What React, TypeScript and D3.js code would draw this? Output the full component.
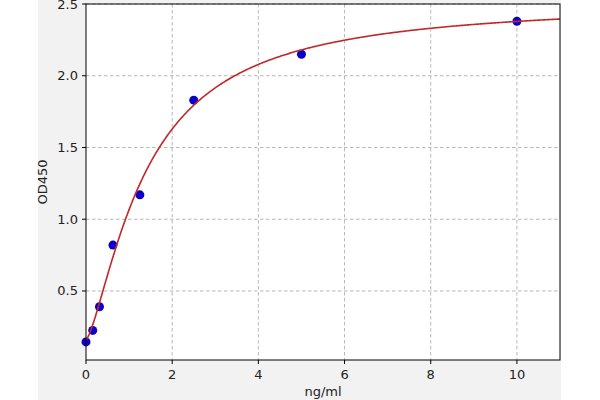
import React from "react";
import * as d3 from "d3";

const concX = [0, 0.156, 0.3125, 0.625, 1.25, 2.5, 5, 10];
const odY = [0.145, 0.225, 0.39, 0.82, 1.17, 1.83, 2.15, 2.38];
const xTicks = [0, 2, 4, 6, 8, 10];
const yTicks = [0.5, 1.0, 1.5, 2.0, 2.5];
// 4PL fit parameters
const fitA = 0.16;
const fitB = 1.4;
const fitC = 1.4;
const fitD = 2.52;

export default function App() {
  const W = 600, H = 400;
  const left = 86, right = 560, top = 4, bottom = 360;
  const x = d3.scaleLinear().domain([0, 11]).range([left, right]);
  const y = d3.scaleLinear().domain([0.019, 2.5]).range([bottom, top]);
  const f = (v: number) => fitD + (fitA - fitD) / (1 + Math.pow(v / fitC, fitB));
  const curvePts = d3.range(0, 11.0001, 0.02).map((v) => [v, f(v)] as [number, number]);
  const line = d3.line<[number, number]>().x((d) => x(d[0])).y((d) => y(d[1]));
  const font = "DejaVu Sans, sans-serif";
  return (
    <svg width={W} height={H} style={{ position: "absolute", left: 0, top: 0 }}>
      <rect x={0} y={0} width={W} height={H} fill="#ffffff" />
      <rect x={38} y={0} width={523} height={H} fill="#f2f2f2" />
      <rect x={left} y={top} width={right - left} height={bottom - top} fill="#ffffff" />
      {xTicks.filter((t) => t > 0).map((t) => (
        <line key={"gx" + t} x1={x(t)} x2={x(t)} y1={top} y2={bottom} stroke="#b0b0b0" strokeDasharray="3.5,2.5" strokeWidth={0.9} />
      ))}
      {yTicks.map((t) => (
        <line key={"gy" + t} x1={left} x2={right} y1={y(t)} y2={y(t)} stroke="#b0b0b0" strokeDasharray="3.5,2.5" strokeWidth={0.9} />
      ))}
      {concX.map((c, i) => (
        <circle key={"p" + i} cx={x(c)} cy={y(odY[i])} r={4.5} fill="#0a00c8" />
      ))}
      <path d={line(curvePts) || ""} fill="none" stroke="#c0282a" strokeWidth={1.6} />
      <rect x={left} y={top} width={right - left} height={bottom - top} fill="none" stroke="#000" strokeWidth={1} />
      {xTicks.map((t) => (
        <g key={"tx" + t}>
          <line x1={x(t)} x2={x(t)} y1={bottom} y2={bottom + 4} stroke="#000" />
          <text x={x(t)} y={bottom + 19} textAnchor="middle" fontFamily={font} fontSize={13} fill="#222">{t}</text>
        </g>
      ))}
      {yTicks.map((t) => (
        <g key={"ty" + t}>
          <line x1={left - 4} x2={left} y1={y(t)} y2={y(t)} stroke="#000" />
          <text x={left - 8} y={y(t) + 4.5} textAnchor="end" fontFamily={font} fontSize={13} fill="#222">{t.toFixed(1)}</text>
        </g>
      ))}
      <text x={(left + right) / 2} y={396} textAnchor="middle" fontFamily={font} fontSize={13} fill="#222">ng/ml</text>
      <text transform={`translate(47,${(top + bottom) / 2}) rotate(-90)`} textAnchor="middle" fontFamily={font} fontSize={13} fill="#222">OD450</text>
    </svg>
  );
}
